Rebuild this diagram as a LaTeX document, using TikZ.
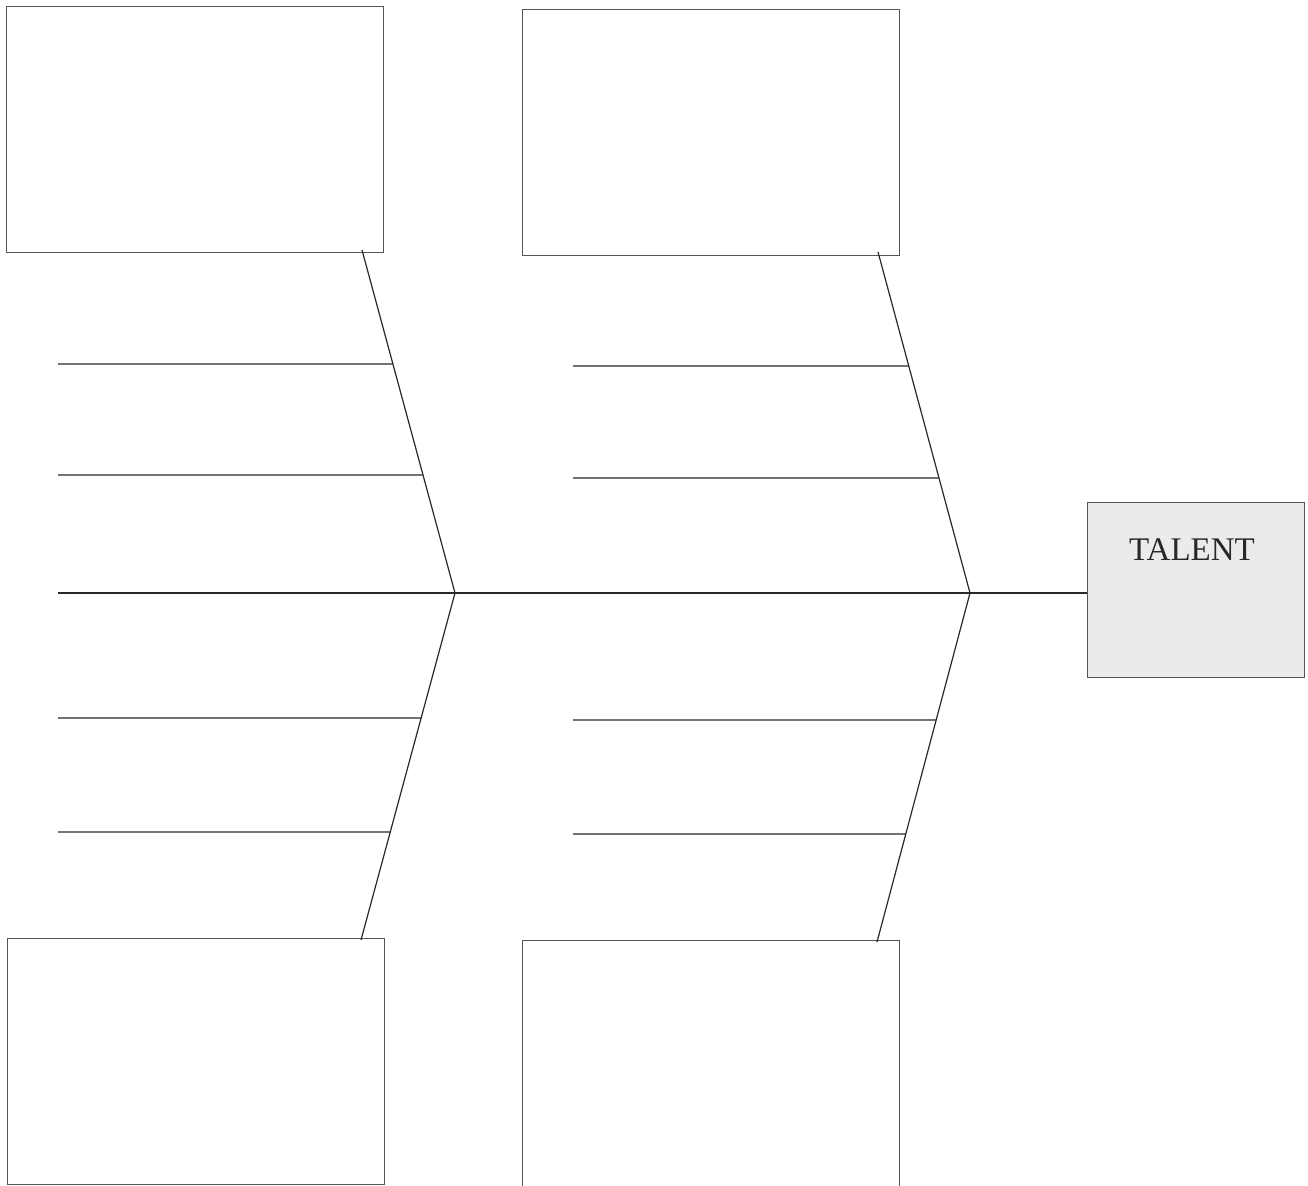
\documentclass[tikz,border=0pt]{standalone}
\usepackage{fontspec}
\setmainfont{Liberation Serif}
\usetikzlibrary{calc}
\definecolor{ln}{RGB}{40,40,40}
\definecolor{bx}{RGB}{85,85,85}
\definecolor{tfill}{RGB}{235,235,237}
\begin{document}
\begin{tikzpicture}[x=1pt,y=-1pt,
  catbox/.style={draw=bx,line width=1.2pt,fill=white,inner sep=0pt,anchor=north west,minimum width=377pt,minimum height=246pt},
  bone/.style={draw=ln,line width=1.2pt},
  rib/.style={draw=ln,line width=1.2pt}]
\useasboundingbox (0,0) rectangle (1308,1185);
\fill[white] (0,0) rectangle (1308,1185);
% category boxes
\node[catbox] (bTL) at (6,6) {};
\node[catbox] (bTM) at (522,9) {};
\node[catbox] (bBL) at (7,938) {};
\node[catbox,minimum height=260pt] (bBM) at (522,940) {};
% effect box
\node[draw=bx,line width=1.2pt,fill=tfill,anchor=north west,minimum width=217pt,minimum height=175pt,inner sep=0pt] (eff) at (1087,502) {};
\node[text=ln,font=\fontsize{33}{38}\selectfont] (tal) at (1192,550) {TALENT};
% spine
\coordinate (sp0) at (58,593);
\coordinate (hL) at (455,593);
\coordinate (hR) at (970,593);
\draw[bone] (sp0) -- (eff.west |- sp0);
% diagonals
\coordinate (dTL) at (362,250);
\coordinate (dBL) at (361,940);
\coordinate (dTM) at (878,252);
\coordinate (dBM) at (877,942);
\draw[bone] (dTL) -- (hL) -- (dBL);
\draw[bone] (dTM) -- (hR) -- (dBM);
% ribs left
\coordinate (rL1) at (58,364);
\coordinate (rL2) at (58,475);
\coordinate (rL3) at (58,718);
\coordinate (rL4) at (58,832);
\draw[rib] (rL1) -- ($(dTL)!{(364-250)/343}!(hL)$);
\draw[rib] (rL2) -- ($(dTL)!{(475-250)/343}!(hL)$);
\draw[rib] (rL3) -- ($(hL)!{(718-593)/347}!(dBL)$);
\draw[rib] (rL4) -- ($(hL)!{(832-593)/347}!(dBL)$);
% ribs right
\coordinate (rR1) at (573,366);
\coordinate (rR2) at (573,478);
\coordinate (rR3) at (573,720);
\coordinate (rR4) at (573,834);
\draw[rib] (rR1) -- ($(dTM)!{(366-252)/341}!(hR)$);
\draw[rib] (rR2) -- ($(dTM)!{(478-252)/341}!(hR)$);
\draw[rib] (rR3) -- ($(hR)!{(720-593)/349}!(dBM)$);
\draw[rib] (rR4) -- ($(hR)!{(834-593)/349}!(dBM)$);
\end{tikzpicture}
\end{document}
